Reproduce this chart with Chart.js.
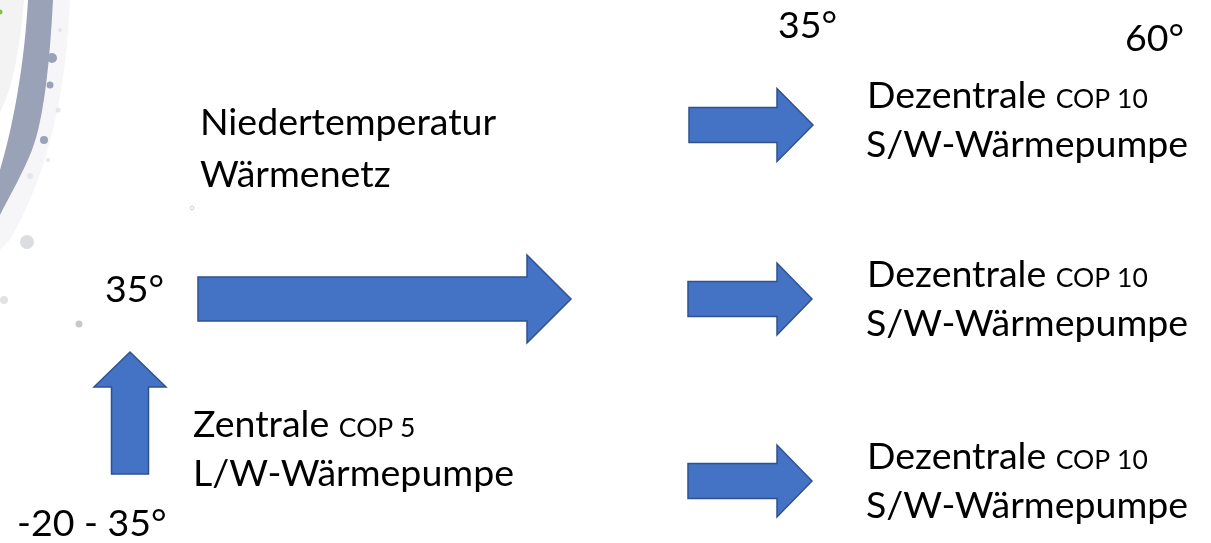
<!DOCTYPE html>
<html>
<head>
<meta charset="utf-8">
<script src="https://cdn.jsdelivr.net/npm/chart.js@4/dist/chart.umd.min.js"></script>
<style>
  html, body { margin: 0; padding: 0; background: #ffffff; }
  #wrap { width: 1211px; height: 543px; position: relative; }
</style>
</head>
<body>
<div id="wrap"><canvas id="c"></canvas></div>
<script>
// ---------- data ----------
// arrows: tail and tip points (diagram units)
const arrowNames = ["Wärmenetz → Dezentrale 1", "Wärmenetz → Dezentrale 2", "Wärmenetz → Dezentrale 3", "Zentrale → Wärmenetz", "Luft → Zentrale"];
const arrowTailX = [689, 688, 688, 198, 130];
const arrowTailY = [125, 299, 481, 299, 474];
const arrowTipX  = [813, 812, 812, 571, 130];
const arrowTipY  = [125, 299, 481, 299, 352];

// labels
const labelText   = ["35°", "60°", "Dezentrale", "S/W-Wärmepumpe", "Niedertemperatur", "Wärmenetz",
                     "35°", "Dezentrale", "S/W-Wärmepumpe", "Zentrale", "L/W-Wärmepumpe", "Dezentrale", "S/W-Wärmepumpe", "-20 - 35°"];
const labelSuffix = ["", "", "COP 10", "", "", "", "", "COP 10", "", "COP 5", "", "COP 10", "", ""];
const labelX      = [778, 1125, 867, 866, 200, 200, 105, 867, 866, 193, 193, 867, 866, 17];
const labelY      = [38, 51, 108, 157, 135, 187, 302, 287, 336, 437, 486, 469, 518, 536];

// ---------- styles (not data) ----------
const arrowShaft = [35, 35, 35, 44, 37];
const arrowHead  = [73, 72, 72, 88, 72];
const arrowHeadL = [36, 35, 35, 44, 35];
const FONT = "Lato, 'Liberation Sans', sans-serif";
const MAIN_SIZE = 37.5, SMALL_SIZE = 26.5;

const diagramPlugin = {
  id: 'diagram',
  beforeDatasetsDraw(chart) {
    const ctx = chart.ctx;
    const xs = chart.scales.x, ys = chart.scales.y;
    const X = v => xs.getPixelForValue(v), Y = v => ys.getPixelForValue(v);
    ctx.save();
    // decorative image fragment in the top-left corner
    ctx.fillStyle = '#f3f3f4';
    ctx.beginPath();
    ctx.moveTo(X(0), Y(0)); ctx.lineTo(X(24), Y(0));
    ctx.bezierCurveTo(X(20), Y(50), X(12), Y(90), X(0), Y(112));
    ctx.closePath(); ctx.fill();
    // light speckled halo
    ctx.fillStyle = 'rgba(228,230,236,0.35)';
    ctx.beginPath();
    ctx.moveTo(X(53), Y(0)); ctx.lineTo(X(70), Y(0));
    ctx.bezierCurveTo(X(66), Y(90), X(50), Y(170), X(10), Y(240));
    ctx.lineTo(X(0), Y(250)); ctx.lineTo(X(0), Y(200));
    ctx.closePath(); ctx.fill();
    // grey band
    ctx.fillStyle = '#9aa2b7';
    ctx.beginPath();
    ctx.moveTo(X(28), Y(0)); ctx.lineTo(X(53), Y(0));
    ctx.bezierCurveTo(X(50), Y(60), X(44), Y(120), X(32), Y(150));
    ctx.bezierCurveTo(X(22), Y(175), X(10), Y(195), X(0), Y(215));
    ctx.lineTo(X(0), Y(170));
    ctx.bezierCurveTo(X(12), Y(130), X(24), Y(70), X(28), Y(0));
    ctx.closePath(); ctx.fill();
    // speckles
    const sp = [[52,58,5,'#9aa2b7'],[50,85,3.5,'#9aa2b7'],[40,98,4,'#9aa2b7'],[44,140,4,'#9aa2b7'],
                [27,242,7,'#dcdde1'],[4,300,4,'#e2e2e5'],[79,324,3.5,'#c8c8cc'],[30,176,3,'#e6e7ec'],
                [60,30,2,'#e4e6ec'],[58,110,2.5,'#e4e6ec'],[48,160,2,'#e4e6ec']];
    sp.forEach(s => { ctx.fillStyle = s[3]; ctx.beginPath(); ctx.arc(X(s[0]), Y(s[1]), s[2], 0, Math.PI*2); ctx.fill(); });
    ctx.strokeStyle = '#d0d0d0'; ctx.lineWidth = 1;
    ctx.beginPath(); ctx.arc(X(192), Y(208), 1.8, 0, Math.PI*2); ctx.stroke();
    ctx.fillStyle = '#7fc241';
    ctx.beginPath(); ctx.arc(X(0), Y(12), 2.5, 0, Math.PI*2); ctx.fill();

    // arrows
    for (let i = 0; i < arrowTailX.length; i++) {
      const ax = X(arrowTailX[i]), ay = Y(arrowTailY[i]);
      const bx = X(arrowTipX[i]),  by = Y(arrowTipY[i]);
      const len = Math.hypot(bx - ax, by - ay);
      const dx = (bx - ax) / len, dy = (by - ay) / len;
      const nx = -dy, ny = dx;
      const sw = arrowShaft[i] / 2, hw = arrowHead[i] / 2, hl = arrowHeadL[i];
      const hx = bx - dx * hl, hy = by - dy * hl;
      ctx.beginPath();
      ctx.moveTo(ax + nx * sw, ay + ny * sw);
      ctx.lineTo(hx + nx * sw, hy + ny * sw);
      ctx.lineTo(hx + nx * hw, hy + ny * hw);
      ctx.lineTo(bx, by);
      ctx.lineTo(hx - nx * hw, hy - ny * hw);
      ctx.lineTo(hx - nx * sw, hy - ny * sw);
      ctx.lineTo(ax - nx * sw, ay - ny * sw);
      ctx.closePath();
      ctx.fillStyle = '#4472c4';
      ctx.fill();
      ctx.strokeStyle = '#2f528f';
      ctx.lineWidth = 1.5;
      ctx.lineJoin = 'miter';
      ctx.stroke();
    }

    // labels
    ctx.fillStyle = '#000000';
    ctx.textBaseline = 'alphabetic';
    ctx.textAlign = 'left';
    for (let i = 0; i < labelText.length; i++) {
      const x = X(labelX[i]), y = Y(labelY[i]);
      ctx.font = MAIN_SIZE + 'px ' + FONT;
      ctx.fillText(labelText[i], x, y);
      if (labelSuffix[i]) {
        const w = ctx.measureText(labelText[i] + ' ').width;
        ctx.font = SMALL_SIZE + 'px ' + FONT;
        ctx.fillText(labelSuffix[i], x + w, y);
      }
    }
    ctx.restore();
  }
};

new Chart(document.getElementById('c'), {
  type: 'scatter',
  data: {
    datasets: [{
      label: 'Pfeilspitzen',
      data: arrowTipX.map((x, i) => ({ x: x, y: arrowTipY[i] })),
      pointRadius: 0,
      pointHoverRadius: 0
    }]
  },
  options: {
    responsive: true,
    maintainAspectRatio: false,
    animation: false,
    layout: { padding: 0 },
    plugins: { legend: { display: false }, tooltip: { enabled: false } },
    scales: {
      x: { type: 'linear', min: 0, max: 1211, display: false },
      y: { type: 'linear', min: 0, max: 543, reverse: true, display: false }
    }
  },
  plugins: [diagramPlugin]
});
</script>
</body>
</html>
